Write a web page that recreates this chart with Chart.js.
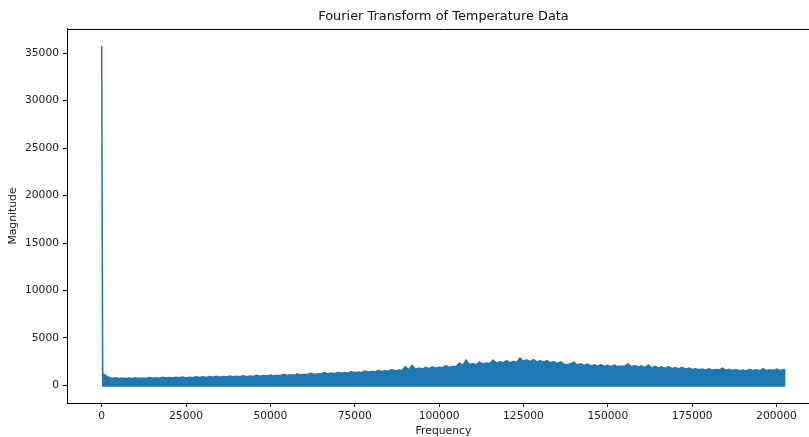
<!DOCTYPE html>
<html>
<head>
<meta charset="utf-8">
<script src="https://cdn.jsdelivr.net/npm/chart.js@4.4.1/dist/chart.umd.min.js"></script>
<style>
    html, body { margin: 0; padding: 0; background: #fff; overflow: hidden; }
    #wrap { position: absolute; left: 0; top: 0; width: 820px; height: 437px; }
</style>
</head>
<body>
<div id="wrap"><canvas id="fftChart"></canvas></div>
<script>
// Upper envelope of the FFT magnitude band (Hz -> magnitude)
const frequencies = [
    0, 300,
    1000, 2000, 3000, 4000, 5000, 6000, 7000, 8000, 9000, 10000,
    11000, 12000, 13000, 14000, 15000, 16000, 17000, 18000, 19000, 20000,
    21000, 22000, 23000, 24000, 25000, 26000, 27000, 28000, 29000, 30000,
    31000, 32000, 33000, 34000, 35000, 36000, 37000, 38000, 39000, 40000,
    41000, 42000, 43000, 44000, 45000, 46000, 47000, 48000, 49000, 50000,
    51000, 52000, 53000, 54000, 55000, 56000, 57000, 58000, 59000, 60000,
    61000, 62000, 63000, 64000, 65000, 66000, 67000, 68000, 69000, 70000,
    71000, 72000, 73000, 74000, 75000, 76000, 77000, 78000, 79000, 80000,
    81000, 82000, 83000, 84000, 85000, 86000, 87000, 88000, 89000, 90000,
    91000, 92000, 93000, 94000, 95000, 96000, 97000, 98000, 99000, 100000,
    101000, 102000, 103000, 104000, 105000, 106000, 107000, 108000, 109000, 110000,
    111000, 112000, 113000, 114000, 115000, 116000, 117000, 118000, 119000, 120000,
    121000, 122000, 123000, 124000, 125000, 126000, 127000, 128000, 129000, 130000,
    131000, 132000, 133000, 134000, 135000, 136000, 137000, 138000, 139000, 140000,
    141000, 142000, 143000, 144000, 145000, 146000, 147000, 148000, 149000, 150000,
    151000, 152000, 153000, 154000, 155000, 156000, 157000, 158000, 159000, 160000,
    161000, 162000, 163000, 164000, 165000, 166000, 167000, 168000, 169000, 170000,
    171000, 172000, 173000, 174000, 175000, 176000, 177000, 178000, 179000, 180000,
    181000, 182000, 183000, 184000, 185000, 186000, 187000, 188000, 189000, 190000,
    191000, 192000, 193000, 194000, 195000, 196000, 197000, 198000, 199000, 200000,
    201000, 202000, 202700
];
const magnitudes = [
    35800, 1250,
    1080, 860, 740, 800, 720, 790, 700, 780, 730, 800,
    720, 790, 740, 820, 750, 810, 760, 850, 770, 830,
    780, 860, 800, 880, 790, 870, 820, 900, 830, 910,
    840, 930, 850, 960, 870, 940, 880, 980, 900, 960,
    910, 1010, 920, 990, 950, 1060, 960, 1040, 990, 1100,
    1000, 1080, 1030, 1160, 1050, 1130, 1080, 1210, 1090, 1180,
    1120, 1280, 1150, 1230, 1190, 1350, 1200, 1300, 1240, 1380,
    1270, 1360, 1300, 1450, 1320, 1420, 1360, 1500, 1380, 1470,
    1420, 1580, 1450, 1540, 1500, 1680, 1530, 1620, 1580, 1980,
    1650, 2100, 1700, 1830, 1720, 1900, 1760, 1960, 1800, 1920,
    1850, 2080, 1900, 2000, 1960, 2350, 2100, 2680, 2200, 2300,
    2180, 2480, 2250, 2350, 2300, 2680, 2350, 2500, 2400, 2600,
    2380, 2520, 2450, 2880, 2550, 2700, 2500, 2720, 2480, 2600,
    2450, 2620, 2380, 2500, 2300, 2480, 2250, 2150, 2300, 2450,
    2150, 2280, 2100, 2250, 2050, 2180, 2020, 2200, 2000, 2120,
    1980, 2150, 1960, 2050, 2000, 2280, 1950, 2100, 1920, 2060,
    1880, 2150, 1850, 2000, 1820, 1960, 1800, 1980, 1760, 1880,
    1740, 1900, 1700, 1820, 1680, 1760, 1640, 1720, 1620, 1740,
    1600, 1680, 1640, 1820, 1580, 1700, 1560, 1660, 1540, 1620,
    1520, 1660, 1560, 1640, 1540, 1760, 1580, 1640, 1560, 1720,
    1580, 1650, 1620
];
const xTicks = [0, 25000, 50000, 75000, 100000, 125000, 150000, 175000, 200000];
const yTicks = [0, 5000, 10000, 15000, 20000, 25000, 30000, 35000];

const points = frequencies.map((f, i) => ({ x: f, y: magnitudes[i] }));

// draws the top/right spines like matplotlib's axes frame
const framePlugin = {
    id: 'frame',
    afterDatasetsDraw(chart) {
        const { ctx, chartArea: a } = chart;
        ctx.save();
        ctx.strokeStyle = '#000';
        ctx.lineWidth = 1;
        ctx.beginPath();
        ctx.moveTo(a.left, a.top + 0.5);
        ctx.lineTo(a.right, a.top + 0.5);
        ctx.lineTo(a.right - 0.5, a.bottom);
        ctx.stroke();
        ctx.restore();
    }
};

const textColor = '#1a1a1a';
const tickFont = { family: "'DejaVu Sans', sans-serif", size: 10.7 };
const labelFont = { family: "'DejaVu Sans', sans-serif", size: 10.8, lineHeight: 1 };

const ctx = document.getElementById('fftChart').getContext('2d');
new Chart(ctx, {
    type: 'line',
    data: {
        datasets: [{
            data: points,
            borderColor: '#1f77b4',
            backgroundColor: '#1f77b4',
            borderWidth: 1.5,
            fill: { value: -150 },
            tension: 0,
            pointRadius: 0
        }]
    },
    options: {
        responsive: true,
        maintainAspectRatio: false,
        animation: false,
        layout: { padding: 0 },
        plugins: {
            legend: { display: false },
            tooltip: { enabled: false },
            title: {
                display: true,
                text: 'Fourier Transform of Temperature Data',
                color: '#111',
                fullSize: false,
                font: { family: "'DejaVu Sans', sans-serif", size: 12.9, weight: 'normal', lineHeight: 1.2 },
                padding: { top: 8.5, bottom: 5.0 }
            }
        },
        scales: {
            x: {
                type: 'linear',
                min: -10280,
                max: 212900,
                afterBuildTicks: s => { s.ticks = xTicks.map(v => ({ value: v })); },
                afterFit: s => { s.height = 34; },
                grid: { display: true, drawOnChartArea: false, drawTicks: true, tickLength: 4, color: '#000' },
                border: { display: true, color: '#000', width: 1 },
                ticks: { color: textColor, font: tickFont, padding: 3, maxRotation: 0, callback: v => String(v) },
                title: {
                    display: true, text: 'Frequency', color: textColor,
                    font: labelFont,
                    padding: { top: 0, bottom: 0 }
                }
            },
            y: {
                type: 'linear',
                min: -1855,
                max: 37560,
                afterBuildTicks: s => { s.ticks = yTicks.map(v => ({ value: v })); },
                afterFit: s => { s.width = 67; },
                grid: { display: true, drawOnChartArea: false, drawTicks: true, tickLength: 4, color: '#000' },
                border: { display: true, color: '#000', width: 1 },
                ticks: { color: textColor, font: tickFont, padding: 4, callback: v => String(v) },
                title: {
                    display: true, text: 'Magnitude', color: textColor,
                    font: labelFont,
                    padding: { top: 8, bottom: 0 }
                }
            }
        }
    },
    plugins: [framePlugin]
});
</script>
</body>
</html>
